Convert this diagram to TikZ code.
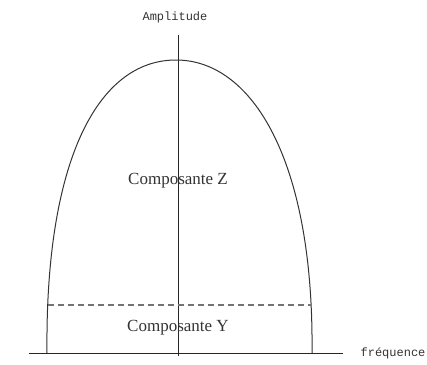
\documentclass[tikz,border=0pt]{standalone}
\usepackage{fontspec}
\setmainfont{Liberation Serif}
\newfontfamily\monofont{Liberation Mono}
\begin{document}
\begin{tikzpicture}[x=1pt,y=-1pt,
  axis/.style={draw=black!85,line width=0.9pt},
  curve/.style={draw=black!80,line width=1pt},
  dashline/.style={draw=black!55,line width=1.1pt,dash pattern=on 6pt off 4pt},
  monolabel/.style={font=\monofont\fontsize{12}{14}\selectfont,text=black!80,inner sep=0pt},
  complabel/.style={font=\fontsize{17}{19}\selectfont,text=black!80,inner sep=0pt}]
\useasboundingbox (0,0) rectangle (427,364);
\coordinate (xl) at (29,353);
\coordinate (xr) at (343,353);
\coordinate (yb) at (178,356);
\coordinate (yt) at (178,35);
\draw[axis] (xl) -- (xr);
\draw[axis] (yb) -- (yt);
\coordinate (cl) at (47,353);
\coordinate (ct) at (176,60);
\coordinate (cr) at (312,353);
\draw[curve] (cl) .. controls (45,160) and (98,60) .. (ct) .. controls (252,60) and (314,160) .. (cr);
\coordinate (dl) at (48,305);
\coordinate (dr) at (311,305);
\draw[dashline] (dl) -- (dr);
\node[monolabel] (amp) at (175,17) {Amplitude};
\node[monolabel] (freq) at (393,353) {fréquence};
\node[complabel] (cz) at (178,181) {Composante Z};
\node[complabel] (cy) at (178,328) {Composante Y};
\end{tikzpicture}
\end{document}
